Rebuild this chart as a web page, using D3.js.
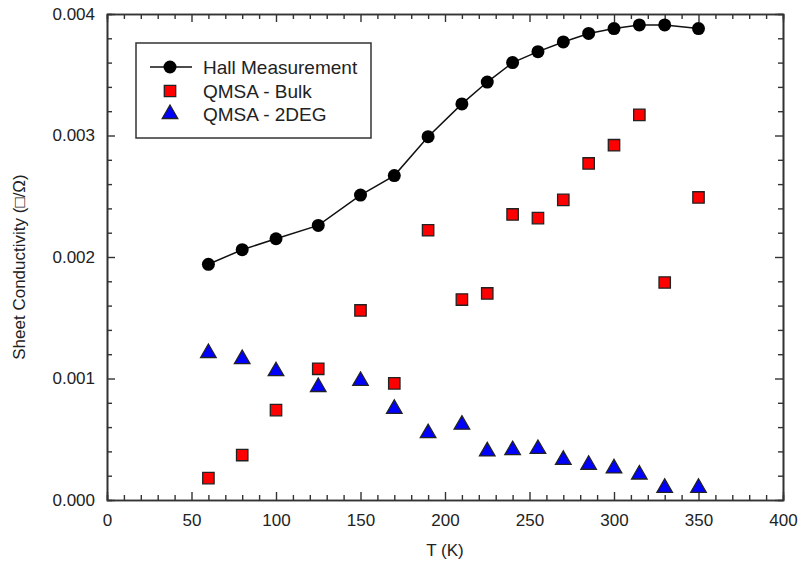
<!DOCTYPE html>
<meta charset="utf-8">
<script src="https://d3js.org/d3.v7.min.js"></script>
<style>
  body { margin: 0; background: #fff; }
  text { font-family: "Liberation Sans", Arial, sans-serif; fill: #222; }
</style>
<svg id="chart" width="801" height="568"></svg>
<script>
// data
var temps = [60, 80, 100, 125, 150, 170, 190, 210, 225, 240, 255, 270, 285, 300, 315, 330, 350];
var hall = [0.00194, 0.00206, 0.00215, 0.00226, 0.00251, 0.00267, 0.00299, 0.00326, 0.00344, 0.0036,
            0.00369, 0.00377, 0.00384, 0.00388, 0.00391, 0.00391, 0.00388];
var bulk = [0.00018, 0.00037, 0.00074, 0.00108, 0.00156, 0.00096, 0.00222, 0.00165, 0.0017, 0.00235,
            0.00232, 0.00247, 0.00277, 0.00292, 0.00317, 0.00179, 0.00249];
var deg2 = [0.00121, 0.00116, 0.00106, 0.00093, 0.00098, 0.00075, 0.00055, 0.00062, 0.0004, 0.00041,
            0.00042, 0.00033, 0.00029, 0.00026, 0.00021, 0.0001, 0.0001];
var xTicks = [0, 50, 100, 150, 200, 250, 300, 350, 400];
var yTicks = [0, 0.001, 0.002, 0.003, 0.004];
var legendNames = ["Hall Measurement", "QMSA - Bulk", "QMSA - 2DEG"];

var margin = { top: 14, right: 18, bottom: 68, left: 107 },
    width = 801 - margin.left - margin.right,
    height = 568 - margin.top - margin.bottom;

var svg = d3.select("#chart")
    .append("g")
    .attr("transform", "translate(" + margin.left + "," + margin.top + ")");

var x = d3.scaleLinear().domain([0, 400]).range([0, width]);
var y = d3.scaleLinear().domain([0, 0.004]).range([height, 0]);

var minorX = d3.range(0, 401, 10).filter(function (d) { return d % 50 !== 0; });
var minorY = d3.range(0, 0.00401, 0.0002).filter(function (d) { return Math.abs(d * 1000 - Math.round(d * 1000)) > 1e-6; });

function styleAxis(g) {
    g.select(".domain").attr("stroke", "#333").attr("stroke-width", 1.6);
    g.selectAll(".tick line").attr("stroke", "#333").attr("stroke-width", 1.4);
    g.selectAll(".tick text").style("font-size", "17px").attr("fill", "#222");
}

// bottom axis: major + minor, inward
svg.append("g").attr("transform", "translate(0," + height + ")")
    .call(d3.axisBottom(x).tickValues(xTicks).tickSizeInner(-8).tickSizeOuter(0).tickPadding(14).tickFormat(d3.format("d")))
    .call(styleAxis);
svg.append("g").attr("transform", "translate(0," + height + ")")
    .call(d3.axisBottom(x).tickValues(minorX).tickSize(-5).tickFormat(""))
    .call(styleAxis);
// top axis
svg.append("g")
    .call(d3.axisTop(x).tickValues(xTicks).tickSizeInner(-8).tickSizeOuter(0).tickFormat(""))
    .call(styleAxis);
svg.append("g")
    .call(d3.axisTop(x).tickValues(minorX).tickSize(-5).tickFormat(""))
    .call(styleAxis);
// left axis
svg.append("g")
    .call(d3.axisLeft(y).tickValues(yTicks).tickSizeInner(-8).tickSizeOuter(0).tickPadding(12).tickFormat(d3.format(".3f")))
    .call(styleAxis);
svg.append("g")
    .call(d3.axisLeft(y).tickValues(minorY).tickSize(-5).tickFormat(""))
    .call(styleAxis);
// right axis
svg.append("g").attr("transform", "translate(" + width + ",0)")
    .call(d3.axisRight(y).tickValues(yTicks).tickSizeInner(-8).tickSizeOuter(0).tickFormat(""))
    .call(styleAxis);
svg.append("g").attr("transform", "translate(" + width + ",0)")
    .call(d3.axisRight(y).tickValues(minorY).tickSize(-5).tickFormat(""))
    .call(styleAxis);

// axis titles
svg.append("text")
    .attr("x", width / 2)
    .attr("y", height + 56)
    .style("text-anchor", "middle")
    .style("font-size", "17px")
    .text("T (K)");

svg.append("text")
    .attr("transform", "rotate(-90)")
    .attr("x", -height / 2 - 10)
    .attr("y", -82)
    .style("text-anchor", "middle")
    .style("font-size", "17px")
    .text("Sheet Conductivity (\u25A1/\u03A9)");

// Hall line + circles
var line = d3.line()
    .x(function (d, i) { return x(temps[i]); })
    .y(function (d) { return y(d); });

svg.append("path")
    .datum(hall)
    .attr("d", line)
    .attr("fill", "none")
    .attr("stroke", "#111")
    .attr("stroke-width", 1.5);

svg.selectAll(".hall")
    .data(hall)
    .enter().append("circle")
    .attr("cx", function (d, i) { return x(temps[i]); })
    .attr("cy", function (d) { return y(d); })
    .attr("r", 6.5)
    .attr("fill", "#000");

var sq = d3.symbol().type(d3.symbolSquare).size(130);
var tri = d3.symbol().type(d3.symbolTriangle).size(105);

svg.selectAll(".bulk")
    .data(bulk)
    .enter().append("path")
    .attr("d", sq)
    .attr("transform", function (d, i) { return "translate(" + x(temps[i]) + "," + y(d) + ")"; })
    .attr("fill", "#ff0000")
    .attr("stroke", "#222")
    .attr("stroke-width", 1.3);

svg.selectAll(".deg")
    .data(deg2)
    .enter().append("path")
    .attr("d", tri)
    .attr("transform", function (d, i) { return "translate(" + x(temps[i]) + "," + y(d) + ")"; })
    .attr("fill", "#0000ff")
    .attr("stroke", "#222")
    .attr("stroke-width", 1.3);

// legend
var leg = svg.append("g").attr("transform", "translate(" + (136 - margin.left) + "," + (43 - margin.top) + ")");
leg.append("rect")
    .attr("width", 235).attr("height", 95)
    .attr("fill", "#fff").attr("stroke", "#333").attr("stroke-width", 1.5);

var rows = [24, 48, 71];
leg.append("line").attr("x1", 14).attr("x2", 56).attr("y1", rows[0]).attr("y2", rows[0])
    .attr("stroke", "#111").attr("stroke-width", 1.5);
leg.append("circle").attr("cx", 34).attr("cy", rows[0]).attr("r", 6.5).attr("fill", "#000");
leg.append("path").attr("d", sq).attr("transform", "translate(34," + rows[1] + ")")
    .attr("fill", "#ff0000").attr("stroke", "#222").attr("stroke-width", 1.3);
leg.append("path").attr("d", tri).attr("transform", "translate(34," + rows[2] + ")")
    .attr("fill", "#0000ff").attr("stroke", "#222").attr("stroke-width", 1.3);

leg.selectAll(".lt")
    .data(legendNames)
    .enter().append("text")
    .attr("x", 67)
    .attr("y", function (d, i) { return rows[i]; })
    .attr("dy", "0.36em")
    .style("font-size", "19px")
    .text(function (d) { return d; });
</script>
